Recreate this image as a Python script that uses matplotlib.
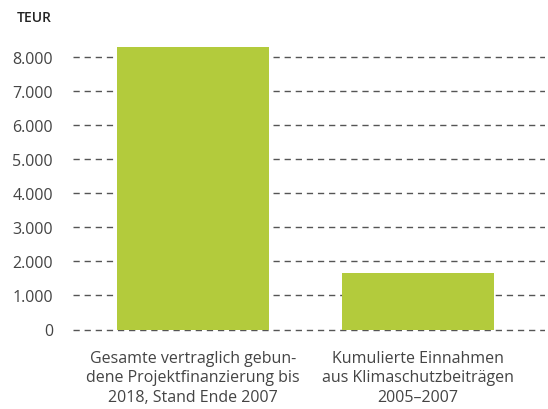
import matplotlib
matplotlib.use("Agg")
import matplotlib.pyplot as plt
from matplotlib.ticker import FuncFormatter

categories = ["Gesamte vertraglich gebun-\ndene Projektfinanzierung bis\n2018, Stand Ende 2007",
              "Kumulierte Einnahmen\naus Klimaschutzbeiträgen\n2005–2007"]
values = [8270, 1660]
yticks = [0, 1000, 2000, 3000, 4000, 5000, 6000, 7000, 8000]

plt.rcParams['font.family'] = ['Open Sans', 'DejaVu Sans']
fig = plt.figure(figsize=(5.48, 4.10), dpi=100)
# y=0 at pixel 330.5 from top, 34.1 px per 1000
ymin, ymax = -100, 8500
px_per = 34.1 / 1000
bottom_px = 330.5 + (0 - ymin) * px_per
top_px = 330.5 - ymax * px_per
ax = fig.add_axes([73 / 548, 1 - bottom_px / 410, 472 / 548, (bottom_px - top_px) / 410])

x = list(range(len(categories)))
ax.bar(x, values, width=0.676, color="#b3cb3c", zorder=3)
ax.set_xlim(-0.533, 1.564)
ax.set_ylim(ymin, ymax)
ax.set_yticks(yticks)
ax.yaxis.set_major_formatter(FuncFormatter(lambda v, p: f"{int(v):,}".replace(",", ".")))
ax.grid(axis="y", color="#555555", linestyle=(0, (4.5, 3.5)), linewidth=1.0, zorder=1)
ax.set_axisbelow(True)
for s in ax.spines.values():
    s.set_visible(False)
ax.tick_params(axis="y", length=0, pad=14.4, labelsize=11.5, labelcolor="#444444")
ax.tick_params(axis="x", length=0, pad=12)
ax.set_xticks(x)
ax.set_xticklabels(categories, fontsize=11.5, color="#444444", linespacing=1.32, va="top")
fig.text(52 / 548, 1 - 18 / 410, "TEUR", ha="right", va="center", fontsize=10, color="#222222", fontweight="semibold")
fig.savefig("out.png", dpi=100)
